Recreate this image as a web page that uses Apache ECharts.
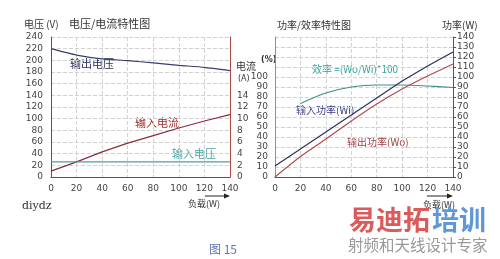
<!DOCTYPE html>
<html>
<head>
<meta charset="utf-8">
<script src="https://cdn.jsdelivr.net/npm/echarts@6/dist/echarts.min.js"></script>
<style>
html,body{margin:0;padding:0;background:#fff;}
#c{width:500px;height:259px;}
</style>
</head>
<body>
<div id="c"></div>
<script>
// Load (W) categories
const loads = [0, 20, 40, 60, 80, 100, 120, 140];
// Left chart: voltage / current characteristics
const outputVoltage = [220, 209, 202.5, 199.5, 195.5, 191.5, 188, 182.5];   // V (left axis)
const inputCurrent  = [1.0, 2.6, 4.3, 5.8, 7.1, 8.4, 9.6, 10.7];           // A (right axis)
const inputVoltage  = [26, 26, 26, 26, 26, 26, 26, 26];                    // V (left axis)
// Right chart: power / efficiency characteristics
const effLoads      = [20, 40, 60, 80, 100, 120, 140];
const efficiency    = [73.5, 84, 90, 92, 92, 91, 89.5];                    // %
const inputPower    = [11, 28, 45, 62, 79, 96, 111, 125];                  // W
const outputPower   = [0, 20.5, 38, 56, 73, 88, 101, 113];                 // W
// Tick label settings
const xTicks = {min: 0, max: 140, interval: 20};
const voltTicks = {min: 0, max: 240, interval: 20};
const currTicks = {min: 0, max: 24, interval: 2, showMax: 14};
const pctTicks = {min: 0, max: 140, interval: 10, showMax: 100};
const powTicks = {min: 0, max: 140, interval: 10};

const pairs = (xs, ys) => xs.map((x, i) => [x, ys[i]]);
const FONT = 'DejaVu Sans';
const lbl = {fontFamily: FONT, fontSize: 9, color: '#444'};
const grid = {type: 'dashed', color: '#d2d2d2', width: 1};

const chart = echarts.init(document.getElementById('c'), null, {renderer: 'canvas'});

function xAx(gi) {
  return {
    type: 'value', gridIndex: gi, min: xTicks.min, max: xTicks.max, interval: xTicks.interval,
    axisLine: {show: true, onZero: false, lineStyle: {color: '#555', width: 1}},
    axisTick: {show: false},
    axisLabel: Object.assign({margin: 7}, lbl),
    splitLine: {show: true, lineStyle: grid}
  };
}

const option = {
  animation: false,
  backgroundColor: '#ffffff',
  grid: [
    {left: 51, top: 37, width: 179, height: 140},
    {left: 275, top: 37, width: 178, height: 140}
  ],
  xAxis: [xAx(0), xAx(1)],
  yAxis: [
    { // 0: voltage
      type: 'value', gridIndex: 0, position: 'left',
      min: voltTicks.min, max: voltTicks.max, interval: voltTicks.interval,
      axisLine: {show: true, lineStyle: {color: '#555'}},
      axisTick: {show: false},
      axisLabel: Object.assign({margin: 8}, lbl),
      splitLine: {show: true, lineStyle: grid}
    },
    { // 1: current
      type: 'value', gridIndex: 0, position: 'right',
      min: currTicks.min, max: currTicks.max, interval: currTicks.interval,
      axisLine: {show: true, lineStyle: {color: '#b04545'}},
      axisTick: {show: false},
      axisLabel: Object.assign({margin: 7, formatter: v => v <= currTicks.showMax ? String(v) : ''}, lbl),
      splitLine: {show: false}
    },
    { // 2: efficiency
      type: 'value', gridIndex: 1, position: 'left',
      min: pctTicks.min, max: pctTicks.max, interval: pctTicks.interval,
      axisLine: {show: true, lineStyle: {color: '#5fb35f'}},
      axisTick: {show: false},
      axisLabel: Object.assign({margin: 7, formatter: v => v <= pctTicks.showMax ? String(v) : ''}, lbl),
      splitLine: {show: true, lineStyle: grid}
    },
    { // 3: power
      type: 'value', gridIndex: 1, position: 'right',
      min: powTicks.min, max: powTicks.max, interval: powTicks.interval,
      axisLine: {show: true, lineStyle: {color: '#555'}},
      axisTick: {show: true, length: 3, inside: false, lineStyle: {color: '#555'}},
      axisLabel: Object.assign({margin: 4}, lbl),
      splitLine: {show: false}
    }
  ],
  series: [
    {name: '输出电压', type: 'line', xAxisIndex: 0, yAxisIndex: 0, data: pairs(loads, outputVoltage),
     showSymbol: false, smooth: 0.2, lineStyle: {color: '#3a3e6c', width: 1.2}},
    {name: '输入电流', type: 'line', xAxisIndex: 0, yAxisIndex: 1, data: pairs(loads, inputCurrent),
     showSymbol: false, lineStyle: {color: '#8a2c3c', width: 1.2}},
    {name: '输入电压', type: 'line', xAxisIndex: 0, yAxisIndex: 0, data: pairs(loads, inputVoltage),
     showSymbol: false, lineStyle: {color: '#4d9ea0', width: 1.2}},
    {name: '效率', type: 'line', xAxisIndex: 1, yAxisIndex: 2, data: pairs(effLoads, efficiency),
     showSymbol: false, smooth: 0.3, lineStyle: {color: '#3d8f86', width: 1.2}},
    {name: '输入功率', type: 'line', xAxisIndex: 1, yAxisIndex: 3, data: pairs(loads, inputPower),
     showSymbol: false, lineStyle: {color: '#2c2f5e', width: 1.2}},
    {name: '输出功率', type: 'line', xAxisIndex: 1, yAxisIndex: 3, data: pairs(loads, outputPower),
     showSymbol: false, smooth: 0.2, lineStyle: {color: '#b04a4a', width: 1.2}}
  ],
  graphic: [
    {type: 'text', left: 24, top: 19, style: {text: '电压 (V)', font: '10px "Noto Sans CJK SC"', fill: '#333'}},
    {type: 'text', left: 69, top: 18, style: {text: '电压/电流特性图', font: '11px "Noto Sans CJK SC"', fill: '#333'}},
    {type: 'text', left: 236, top: 61, style: {text: '电流', font: '10px "Noto Sans CJK SC"', fill: '#333'}},
    {type: 'text', left: 238, top: 75, style: {text: '(A)', font: '8px "DejaVu Sans"', fill: '#333'}},
    {type: 'text', left: 261, top: 56, style: {text: '(%)', font: 'bold 8px "DejaVu Sans"', fill: '#333'}},
    {type: 'text', left: 277, top: 20, style: {text: '功率/效率特性图', font: '10px "Noto Sans CJK SC"', fill: '#333'}},
    {type: 'text', left: 442, top: 20, style: {text: '功率(W)', font: '10px "Noto Sans CJK SC"', fill: '#333'}},
    {type: 'text', left: 70, top: 58, style: {text: '输出电压', font: '11px "Noto Sans CJK SC"', fill: '#2a2d5a'}},
    {type: 'text', left: 135, top: 117, style: {text: '输入电流', font: '11px "Noto Sans CJK SC"', fill: '#a02a2a'}},
    {type: 'text', left: 172, top: 148, style: {text: '输入电压', font: '11px "Noto Sans CJK SC"', fill: '#4aa3a3'}},
    {type: 'text', left: 312, top: 64, style: {text: '效率 =(Wo/Wi)*100', font: '10px "Noto Sans CJK SC"', fill: '#3aa09a'}},
    {type: 'text', left: 296, top: 105, style: {text: '输入功率(Wi)', font: '10px "Noto Sans CJK SC"', fill: '#3a3a8a'}},
    {type: 'text', left: 347, top: 137, style: {text: '输出功率(Wo)', font: '10px "Noto Sans CJK SC"', fill: '#a04040'}},
    {type: 'text', left: 188, top: 199, style: {text: '负载(W)', font: '9px "Noto Sans CJK SC"', fill: '#333'}},
    {type: 'text', left: 423, top: 200, style: {text: '负载(W)', font: '9px "Noto Sans CJK SC"', fill: '#333'}},
    {type: 'line', shape: {x1: 205, y1: 196, x2: 228, y2: 196}, style: {stroke: '#222', lineWidth: 1}},
    {type: 'polygon', shape: {points: [[230, 196], [224, 193.5], [224, 198.5]]}, style: {fill: '#222'}},
    {type: 'line', shape: {x1: 427, y1: 196, x2: 451, y2: 196}, style: {stroke: '#222', lineWidth: 1}},
    {type: 'polygon', shape: {points: [[453, 196], [447, 193.5], [447, 198.5]]}, style: {fill: '#222'}},
    {type: 'text', left: 22, top: 201, style: {text: 'diydz', font: '11px "DejaVu Serif"', fill: '#333'}},
    {type: 'text', left: 209, top: 243, style: {text: '图 15', font: '12px "Noto Sans CJK SC"', fill: '#5a7ab0'}},
    {type: 'text', left: 349, top: 206, style: {text: '易迪拓', font: 'bold 27px "Noto Sans CJK SC"', fill: '#dc5a5a'}},
    {type: 'text', left: 432, top: 206, style: {text: '培训', font: 'bold 27px "Noto Sans CJK SC"', fill: '#5f98d8'}},
    {type: 'text', left: 348, top: 237, style: {text: '射频和天线设计专家', font: '15.5px "Noto Sans CJK SC"', fill: '#999999'}}
  ]
};
chart.setOption(option);
</script>
</body>
</html>
